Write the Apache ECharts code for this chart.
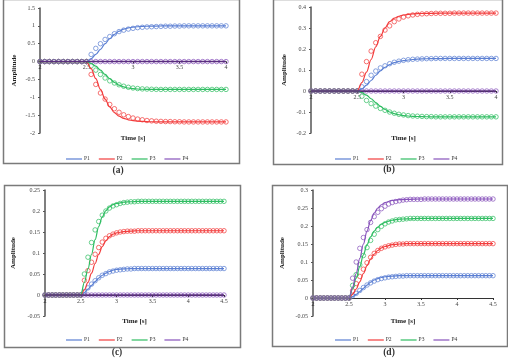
<!DOCTYPE html>
<html>
<head>
<meta charset="utf-8">
<script src="https://cdn.jsdelivr.net/npm/echarts@6/dist/echarts.min.js"></script>
<style>
html,body{margin:0;padding:0;background:#fff;}
#c{width:508px;height:359px;}
</style>
</head>
<body>
<div id="c"></div>
<script>
// ---------- data ----------
const seriesNames = ['P1','P2','P3','P4'];
const panelLabels = ['(a)','(b)','(c)','(d)'];
const xTitle = 'Time [s]';
const yTitle = 'Amplitude';

// marker times
const tMarkAB = [2,2.05,2.1,2.15,2.2,2.25,2.3,2.35,2.4,2.45,2.5,2.55,2.6,2.65,2.7,2.75,2.8,2.85,2.9,2.95,3,3.05,3.1,3.15,3.2,3.25,3.3,3.35,3.4,3.45,3.5,3.55,3.6,3.65,3.7,3.75,3.8,3.85,3.9,3.95,4];
const tMarkCD = [2,2.05,2.1,2.15,2.2,2.25,2.3,2.35,2.4,2.45,2.5,2.55,2.6,2.65,2.7,2.75,2.8,2.85,2.9,2.95,3,3.05,3.1,3.15,3.2,3.25,3.3,3.35,3.4,3.45,3.5,3.55,3.6,3.65,3.7,3.75,3.8,3.85,3.9,3.95,4,4.05,4.1,4.15,4.2,4.25,4.3,4.35,4.4,4.45,4.5];
// line times
const tLineAB = [2,2.5,2.55,2.6,2.65,2.7,2.75,2.8,2.85,2.9,2.95,3,3.1,3.2,3.3,3.5,4];
const tLineCD = [2,2.5,2.55,2.6,2.65,2.7,2.75,2.8,2.85,2.9,2.95,3,3.1,3.2,3.3,3.5,4,4.5];

// panel (a)
const aLineP1 = [0,0,0.08,0.2,0.34,0.5,0.64,0.76,0.85,0.91,0.945,0.965,0.985,0.993,0.997,1,1];
const aLineP2 = [0,0,-0.2,-0.48,-0.78,-1.05,-1.27,-1.43,-1.53,-1.59,-1.63,-1.655,-1.675,-1.685,-1.69,-1.69,-1.69];
const aLineP3 = [0,0,-0.05,-0.13,-0.24,-0.36,-0.48,-0.58,-0.66,-0.71,-0.74,-0.76,-0.775,-0.78,-0.78,-0.78,-0.78];
const aLineP4 = [0,0,0,0,0,0,0,0,0,0,0,0,0,0,0,0,0];
const aMarkP1 = [0,0,0,0,0,0,0,0,0,0,0,0.2,0.37,0.5,0.62,0.7,0.78,0.84,0.88,0.91,0.93,0.95,0.96,0.97,0.975,0.98,0.985,0.99,0.99,0.995,0.995,1,1,1,1,1,1,1,1,1,1];
const aMarkP2 = [0,0,0,0,0,0,0,0,0,0,0,-0.36,-0.64,-0.88,-1.05,-1.2,-1.32,-1.42,-1.49,-1.54,-1.58,-1.61,-1.63,-1.65,-1.66,-1.67,-1.675,-1.68,-1.68,-1.685,-1.685,-1.69,-1.69,-1.69,-1.69,-1.69,-1.69,-1.69,-1.69,-1.69,-1.69];
const aMarkP3 = [0,0,0,0,0,0,0,0,0,0,0,-0.12,-0.24,-0.36,-0.46,-0.54,-0.6,-0.65,-0.69,-0.72,-0.74,-0.755,-0.765,-0.77,-0.775,-0.778,-0.78,-0.78,-0.78,-0.78,-0.78,-0.78,-0.78,-0.78,-0.78,-0.78,-0.78,-0.78,-0.78,-0.78,-0.78];
const aMarkP4 = [0,0,0,0,0,0,0,0,0,0,0,0,0,0,0,0,0,0,0,0,0,0,0,0,0,0,0,0,0,0,0,0,0,0,0,0,0,0,0,0,0];

// panel (b)
const bLineP1 = [0,0,0.01,0.028,0.05,0.075,0.096,0.113,0.126,0.135,0.141,0.145,0.15,0.153,0.154,0.155,0.155];
const bLineP2 = [0,0,0.04,0.09,0.15,0.21,0.26,0.3,0.33,0.347,0.356,0.362,0.367,0.369,0.37,0.371,0.371];
const bLineP3 = [0,0,-0.008,-0.02,-0.037,-0.055,-0.073,-0.088,-0.1,-0.108,-0.113,-0.117,-0.121,-0.122,-0.123,-0.123,-0.123];
const bLineP4 = [0,0,0,0,0,0,0,0,0,0,0,0,0,0,0,0,0];
const bMarkP1 = [0,0,0,0,0,0,0,0,0,0,0,0.02,0.045,0.075,0.095,0.11,0.12,0.13,0.137,0.142,0.146,0.149,0.151,0.152,0.153,0.154,0.154,0.155,0.155,0.155,0.155,0.155,0.155,0.155,0.155,0.155,0.155,0.155,0.155,0.155,0.155];
const bMarkP2 = [0,0,0,0,0,0,0,0,0,0,0,0.08,0.14,0.19,0.23,0.26,0.29,0.31,0.33,0.343,0.352,0.358,0.362,0.365,0.367,0.368,0.369,0.37,0.37,0.37,0.37,0.371,0.371,0.371,0.371,0.371,0.371,0.371,0.371,0.371,0.371];
const bMarkP3 = [0,0,0,0,0,0,0,0,0,0,0,-0.025,-0.045,-0.06,-0.072,-0.083,-0.092,-0.1,-0.106,-0.111,-0.114,-0.117,-0.119,-0.12,-0.121,-0.122,-0.122,-0.123,-0.123,-0.123,-0.123,-0.123,-0.123,-0.123,-0.123,-0.123,-0.123,-0.123,-0.123,-0.123,-0.123];
const bMarkP4 = [0,0,0,0,0,0,0,0,0,0,0,0,0,0,0,0,0,0,0,0,0,0,0,0,0,0,0,0,0,0,0,0,0,0,0,0,0,0,0,0,0];

// panel (c)
const cLineP1 = [0,0,0.006,0.014,0.023,0.032,0.04,0.047,0.052,0.056,0.059,0.061,0.062,0.063,0.063,0.063,0.063,0.063];
const cLineP2 = [0,0,0.012,0.03,0.052,0.075,0.097,0.115,0.129,0.139,0.145,0.148,0.151,0.152,0.153,0.153,0.153,0.153];
const cLineP3 = [0,0,0.03,0.062,0.097,0.132,0.163,0.186,0.201,0.21,0.215,0.218,0.221,0.222,0.223,0.223,0.223,0.223];
const cLineP4 = [0,0,0,0,0,0,0,0,0,0,0,0,0,0,0,0,0,0];
const cMarkP1 = [0,0,0,0,0,0,0,0,0,0,0,0.008,0.017,0.026,0.034,0.041,0.047,0.051,0.055,0.057,0.059,0.06,0.061,0.062,0.062,0.063,0.063,0.063,0.063,0.063,0.063,0.063,0.063,0.063,0.063,0.063,0.063,0.063,0.063,0.063,0.063,0.063,0.063,0.063,0.063,0.063,0.063,0.063,0.063,0.063,0.063];
const cMarkP2 = [0,0,0,0,0,0,0,0,0,0,0,0.035,0.058,0.078,0.097,0.113,0.126,0.135,0.141,0.145,0.148,0.15,0.151,0.152,0.152,0.152,0.153,0.153,0.153,0.153,0.153,0.153,0.153,0.153,0.153,0.153,0.153,0.153,0.153,0.153,0.153,0.153,0.153,0.153,0.153,0.153,0.153,0.153,0.153,0.153,0.153];
const cMarkP3 = [0,0,0,0,0,0,0,0,0,0,0,0.05,0.09,0.125,0.155,0.175,0.19,0.2,0.207,0.212,0.215,0.218,0.22,0.221,0.222,0.222,0.223,0.223,0.223,0.223,0.223,0.223,0.223,0.223,0.223,0.223,0.223,0.223,0.223,0.223,0.223,0.223,0.223,0.223,0.223,0.223,0.223,0.223,0.223,0.223,0.223];
const cMarkP4 = [0,0,0,0,0,0,0,0,0,0,0,0,0,0,0,0,0,0,0,0,0,0,0,0,0,0,0,0,0,0,0,0,0,0,0,0,0,0,0,0,0,0,0,0,0,0,0,0,0,0,0];

// panel (d)
const dLineP1 = [0,0,0.004,0.01,0.018,0.027,0.036,0.044,0.05,0.054,0.057,0.059,0.061,0.062,0.062,0.062,0.062,0.062];
const dLineP2 = [0,0,0.01,0.025,0.045,0.068,0.09,0.108,0.122,0.132,0.139,0.143,0.148,0.15,0.151,0.151,0.151,0.151];
const dLineP3 = [0,0,0.025,0.055,0.088,0.12,0.148,0.17,0.186,0.197,0.205,0.21,0.216,0.219,0.22,0.221,0.221,0.221];
const dLineP4 = [0,0,0.03,0.068,0.11,0.15,0.186,0.215,0.236,0.25,0.259,0.265,0.271,0.273,0.274,0.275,0.275,0.275];
const dMarkP1 = [0,0,0,0,0,0,0,0,0,0,0,0.006,0.013,0.021,0.029,0.036,0.042,0.047,0.051,0.054,0.056,0.058,0.059,0.06,0.061,0.061,0.062,0.062,0.062,0.062,0.062,0.062,0.062,0.062,0.062,0.062,0.062,0.062,0.062,0.062,0.062,0.062,0.062,0.062,0.062,0.062,0.062,0.062,0.062,0.062,0.062];
const dMarkP2 = [0,0,0,0,0,0,0,0,0,0,0,0.02,0.04,0.06,0.08,0.098,0.113,0.124,0.132,0.138,0.142,0.145,0.147,0.149,0.15,0.15,0.151,0.151,0.151,0.151,0.151,0.151,0.151,0.151,0.151,0.151,0.151,0.151,0.151,0.151,0.151,0.151,0.151,0.151,0.151,0.151,0.151,0.151,0.151,0.151,0.151];
const dMarkP3 = [0,0,0,0,0,0,0,0,0,0,0,0.035,0.065,0.092,0.118,0.14,0.16,0.177,0.19,0.199,0.206,0.211,0.214,0.217,0.218,0.219,0.22,0.221,0.221,0.221,0.221,0.221,0.221,0.221,0.221,0.221,0.221,0.221,0.221,0.221,0.221,0.221,0.221,0.221,0.221,0.221,0.221,0.221,0.221,0.221,0.221];
const dMarkP4 = [0,0,0,0,0,0,0,0,0,0,0,0.055,0.1,0.138,0.168,0.19,0.21,0.226,0.238,0.248,0.255,0.261,0.265,0.268,0.27,0.272,0.273,0.274,0.274,0.274,0.274,0.275,0.275,0.275,0.275,0.275,0.275,0.275,0.275,0.275,0.275,0.275,0.275,0.275,0.275,0.275,0.275,0.275,0.275,0.275,0.275];

// axis ranges
const xRanges = [[2,4,0.5],[2,4,0.5],[2,4.5,0.5],[2,4.5,0.5]];
const yRanges = [[-2,1.5,0.5],[-0.2,0.4,0.1],[-0.05,0.25,0.05],[-0.05,0.3,0.05]];

// ---------- build ----------
const colors = ['#5b7fd3','#f23c3c','#2fbd62','#8752bb'];
const FONT = '"Liberation Serif", "DejaVu Serif", serif';
const grids = [
  {left:40, top:8, width:186, height:125},
  {left:311, top:7, width:185, height:126},
  {left:45, top:190, width:179, height:126},
  {left:313, top:190, width:180, height:126}
];
const panels = [
  {tl:tLineAB, tm:tMarkAB, lines:[aLineP1,aLineP2,aLineP3,aLineP4], marks:[aMarkP1,aMarkP2,aMarkP3,aMarkP4]},
  {tl:tLineAB, tm:tMarkAB, lines:[bLineP1,bLineP2,bLineP3,bLineP4], marks:[bMarkP1,bMarkP2,bMarkP3,bMarkP4]},
  {tl:tLineCD, tm:tMarkCD, lines:[cLineP1,cLineP2,cLineP3,cLineP4], marks:[cMarkP1,cMarkP2,cMarkP3,cMarkP4]},
  {tl:tLineCD, tm:tMarkCD, lines:[dLineP1,dLineP2,dLineP3,dLineP4], marks:[dMarkP1,dMarkP2,dMarkP3,dMarkP4]}
];
const yNameGap = [22,23,28,27];
const legendPos = [{left:61, top:151},{left:330, top:151},{left:61, top:332},{left:330, top:332}];
const boxes = [
  {x:1, y:-3, w:236, h:164},
  {x:271, y:-3, w:229, h:165},
  {x:2, y:183, w:236, h:162},
  {x:270, y:183, w:235, h:161}
];
const labelPos = [[118,171],[389,170],[117,353],[389,353]];

const xAxis = [], yAxis = [], series = [], legend = [], graphic = [];
grids.forEach((g, p) => {
  // place the x axis on the zero line of its value axis
  const zeroFromBottom = g.height * (0 - yRanges[p][0]) / (yRanges[p][1] - yRanges[p][0]);
  xAxis.push({
    type:'value', gridIndex:p, min:xRanges[p][0], max:xRanges[p][1], interval:xRanges[p][2],
    position:'bottom', offset:-zeroFromBottom,
    axisLine:{onZero:false, lineStyle:{color:'#333', width:1}},
    axisTick:{show:true, length:2, lineStyle:{color:'#333'}},
    axisLabel:{fontSize:6, fontFamily:FONT, color:'#444', margin:3, showMinLabel:true, showMaxLabel:true, hideOverlap:false},
    splitLine:{show:false}
  });
  yAxis.push({
    type:'value', gridIndex:p, min:yRanges[p][0], max:yRanges[p][1], interval:yRanges[p][2],
    name:yTitle, nameLocation:'middle', nameGap:yNameGap[p], nameRotate:90,
    nameTextStyle:{fontSize:7, fontWeight:'bold', fontFamily:FONT, color:'#222'},
    axisLine:{show:true, lineStyle:{color:'#555', width:1.5}},
    axisTick:{show:true, length:2, lineStyle:{color:'#555'}},
    axisLabel:{fontSize:6, fontFamily:FONT, color:'#444', margin:5, showMinLabel:true, showMaxLabel:true},
    splitLine:{show:false}
  });
  const P = panels[p];
  for (let k = 0; k < 4; k++) {
    series.push({
      type:'scatter', name:seriesNames[k] + ' meas', xAxisIndex:p, yAxisIndex:p,
      data:P.tm.map((t,i)=>[t, P.marks[k][i]]),
      symbol:'circle', symbolSize:4.5,
      itemStyle:{color:'rgba(255,255,255,0)', borderColor:colors[k], borderWidth:0.9, opacity:0.8},
      silent:true, z:2
    });
  }
  for (let k = 0; k < 4; k++) {
    series.push({
      type:'line', name:seriesNames[k], xAxisIndex:p, yAxisIndex:p,
      data:P.tl.map((t,i)=>[t, P.lines[k][i]]),
      showSymbol:false, smooth:0.35, smoothMonotone:'x',
      lineStyle:{color: (k===3 && p<3) ? '#5a2f7e' : colors[k], width: (k===3 && p<3) ? 1.6 : 1.2},
      itemStyle:{color:colors[k]},
      silent:true, z:3
    });
  }
  legend.push({
    left:legendPos[p].left, top:legendPos[p].top, orient:'horizontal',
    data:seriesNames.map(n=>({name:n, icon:'rect', itemStyle:{color:colors[seriesNames.indexOf(n)]}})),
    itemWidth:16, itemHeight:1.2, itemGap:9,
    textStyle:{fontSize:5.5, fontFamily:FONT, color:'#333', padding:[0,0,0,-3]},
    selectedMode:false
  });
  graphic.push({
    type:'rect', left:boxes[p].x, top:boxes[p].y,
    shape:{width:boxes[p].w, height:boxes[p].h},
    style:{fill:'none', stroke:'#7a7a7a', lineWidth:1.5}, z:0
  });
  graphic.push({
    type:'text', x:g.left + g.width/2, y:g.top + g.height + 5,
    style:{text:xTitle, fontSize:7, fontWeight:'bold', fontFamily:FONT, fill:'#222', textAlign:'center', textVerticalAlign:'middle'}
  });
  graphic.push({
    type:'text', x:labelPos[p][0], y:labelPos[p][1],
    style:{text:panelLabels[p], fontSize:9.5, fontWeight:'bold', fontFamily:FONT, fill:'#333', textAlign:'center', textVerticalAlign:'middle'}
  });
  // min tick label at the axis crossing (hidden by the library at the corner)
  graphic.push({
    type:'text', x:g.left, y:g.top + g.height - zeroFromBottom + 6, z:100,
    style:{text:String(xRanges[p][0]), fontSize:6, fontFamily:FONT, fill:'#444', textAlign:'center', textVerticalAlign:'middle'}
  });
});

const chart = echarts.init(document.getElementById('c'), null, {renderer:'canvas', width:508, height:359});
chart.setOption({
  animation:false,
  backgroundColor:'#fff',
  grid:grids.map(g=>Object.assign({containLabel:false}, g)),
  xAxis, yAxis, series, legend, graphic
});
</script>
</body>
</html>
